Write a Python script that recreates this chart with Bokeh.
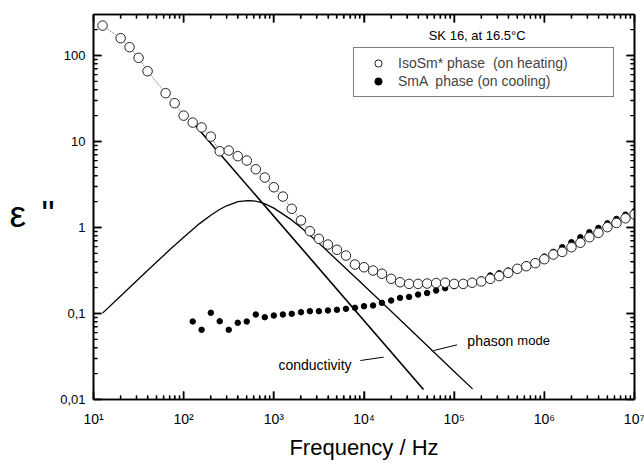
import math
from bokeh.plotting import figure
from bokeh.layouts import row
from bokeh.models import (Range1d, FixedTicker, Legend, LegendItem, Label, LogAxis,
                          CustomJSTickFormatter)
from bokeh.core.properties import value
from bokeh.embed import file_html
from bokeh.resources import INLINE

FONT = "Liberation Sans"

# IsoSm* phase (on heating) - open circles
heat_freq = [12.6, 20.0, 25.1, 31.6, 39.8, 63.1, 79.4,
             100, 126, 158, 200, 251, 316, 398, 501, 631, 794,
             1.0e3, 1.26e3, 1.58e3, 2.0e3, 2.51e3, 3.16e3, 3.98e3, 5.01e3, 6.31e3, 7.94e3,
             1.0e4, 1.26e4, 1.58e4, 2.0e4, 2.51e4, 3.16e4, 3.98e4, 5.01e4, 6.31e4, 7.94e4,
             1.0e5, 1.26e5, 1.58e5, 2.0e5, 2.51e5, 3.16e5, 3.98e5, 5.01e5, 6.31e5, 7.94e5,
             1.0e6, 1.26e6, 1.58e6, 2.0e6, 2.51e6, 3.16e6, 3.98e6, 5.01e6, 6.31e6, 7.94e6,
             1.0e7]
heat_eps = [223, 159, 125, 94, 65.7, 36.5, 27.9,
            20.0, 16.6, 14.6, 11.4, 7.71, 7.86, 6.75, 6.01, 4.76, 3.81,
            2.94, 2.29, 1.65, 1.21, 0.906, 0.739, 0.634, 0.551, 0.472, 0.371,
            0.345, 0.316, 0.290, 0.253, 0.231, 0.221, 0.221, 0.223, 0.226, 0.228,
            0.221, 0.221, 0.228, 0.236, 0.253, 0.272, 0.297, 0.331, 0.355, 0.385,
            0.428, 0.485, 0.521, 0.590, 0.664, 0.771, 0.867, 1.01, 1.13, 1.28,
            1.42]

# SmA phase (on cooling) - filled dots
cool_freq = [126, 158, 200, 251, 316, 398, 501, 631, 794,
             1.0e3, 1.26e3, 1.58e3, 2.0e3, 2.51e3, 3.16e3, 3.98e3, 5.01e3, 6.31e3, 7.94e3,
             1.0e4, 1.26e4, 1.58e4, 2.0e4, 2.51e4, 3.16e4, 3.98e4, 5.01e4, 6.31e4, 7.94e4,
             1.0e5, 1.26e5, 1.58e5, 2.0e5, 2.51e5, 3.16e5, 3.98e5, 5.01e5, 6.31e5, 7.94e5,
             1.0e6, 1.26e6, 1.58e6, 2.0e6, 2.51e6, 3.16e6, 3.98e6, 5.01e6, 6.31e6, 7.94e6,
             1.0e7]
cool_eps = [0.0807, 0.0646, 0.102, 0.0813, 0.0646, 0.078, 0.0807, 0.0974, 0.0906,
            0.0948, 0.0974, 0.0992, 0.1035, 0.1064, 0.1064, 0.1084, 0.1104, 0.1134, 0.1165,
            0.1216, 0.124, 0.133, 0.1416, 0.152, 0.156, 0.166, 0.173, 0.185, 0.197,
            0.208, 0.216, 0.231, 0.249, 0.277, 0.294, 0.316, 0.345, 0.371, 0.403,
            0.460, 0.521, 0.590, 0.675, 0.771, 0.882, 0.99, 1.12, 1.26, 1.41,
            1.55]

# phason mode curve
phason_freq = [12.6, 20, 40, 70, 100, 150, 200, 250, 300, 400, 515, 600, 700, 800,
               1000, 1500, 2000, 3000, 5000, 1e4, 2e4, 5e4, 1e5, 1.6e5]
phason_eps = [0.101, 0.160, 0.318, 0.55, 0.77, 1.11, 1.39, 1.62, 1.79, 2.0, 2.06, 2.04,
              1.97, 1.88, 1.68, 1.27, 1.0, 0.69, 0.42, 0.212, 0.106, 0.0424, 0.0212, 0.0133]

# conductivity line
cond_freq = [120, 4.57e4]
cond_eps = [17.7, 0.0131]

x_decades = [10, 100, 1e3, 1e4, 1e5, 1e6, 1e7]
x_tick_labels = ["10¹", "10²", "10³", "10⁴", "10⁵", "10⁶", "10⁷"]
y_ticks = [0.01, 0.1, 1, 10, 100]
y_tick_labels = ["0,01", "0,1", "1", "10", "100"]
y_title = ["ε", '"']

X0, X1 = 10, 1e7
Y0, Y1 = 0.01, 300

x_minor = [m * d for d in x_decades[:-1] for m in range(2, 10)]
y_minor = [m * d for d in y_ticks for m in range(2, 10) if m * d < Y1]

# layout: a narrow strip for the y title + the main plot
LW = 55
W, H = 644 - LW, 464
BL, BR, BT, BB = 38, 10, 14, 65

lab = figure(width=LW, height=H, x_range=Range1d(0, LW), y_range=Range1d(0, H),
             output_backend="svg", toolbar_location=None,
             x_axis_location=None, y_axis_location=None,
             min_border_left=0, min_border_right=0, min_border_top=0, min_border_bottom=0)
lab.grid.visible = False
lab.outline_line_color = None
lab.background_fill_color = None
lab.border_fill_color = None
lab.text(x=[9, 41], y=[H - 241, H - 241], text=y_title, text_align="left",
         text_baseline="alphabetic", text_font=value(FONT), text_font_size="37px",
         text_color="black")

p = figure(width=W, height=H, x_axis_type="log", y_axis_type="log",
           x_range=Range1d(X0, X1), y_range=Range1d(Y0, Y1),
           output_backend="svg", toolbar_location=None,
           min_border_left=BL, min_border_right=BR, min_border_top=BT, min_border_bottom=BB)
p.grid.visible = False
p.outline_line_color = "black"
p.outline_line_width = 1.6
p.background_fill_color = None
p.border_fill_color = None


def style(ax):
    ax.axis_line_color = "black"
    ax.axis_line_width = 1.6
    ax.major_tick_in = 8
    ax.major_tick_out = 0
    ax.minor_tick_in = 4
    ax.minor_tick_out = 0
    ax.major_tick_line_color = "black"
    ax.minor_tick_line_color = "black"
    ax.major_tick_line_width = 1.5
    ax.minor_tick_line_width = 1.2
    ax.major_label_text_font = FONT
    ax.major_label_text_color = "black"


xa = p.xaxis[0]
style(xa)
xa.ticker = FixedTicker(ticks=x_decades, minor_ticks=x_minor)
xa.major_label_overrides = dict(zip(x_decades, x_tick_labels))
xa.major_label_text_font_size = "14px"
xa.major_label_standoff = 11
xa.axis_label = "Frequency / Hz"
xa.axis_label_text_font = FONT
xa.axis_label_text_font_size = "22px"
xa.axis_label_text_font_style = "normal"
xa.axis_label_text_color = "black"
xa.axis_label_standoff = 5

ya = p.yaxis[0]
style(ya)
ya.ticker = FixedTicker(ticks=y_ticks, minor_ticks=y_minor)
ya.major_label_overrides = dict(zip(y_ticks, y_tick_labels))
ya.major_label_text_font_size = "13px"
ya.major_label_standoff = 8

blank = CustomJSTickFormatter(code="return ''")
ta = LogAxis(ticker=FixedTicker(ticks=x_decades, minor_ticks=x_minor), formatter=blank,
             major_label_text_font_size="1px", major_label_standoff=0)
style(ta)
p.add_layout(ta, "above")
ra = LogAxis(ticker=FixedTicker(ticks=y_ticks, minor_ticks=y_minor), formatter=blank,
             major_label_text_font_size="1px", major_label_standoff=0)
style(ra)
p.add_layout(ra, "right")

# inward tick marks drawn again as glyphs just inside the frame edges
px_dec_x = (W - BL - BR) / math.log10(X1 / X0)
px_dec_y = (H - BT - BB) / math.log10(Y1 / Y0)


def fx(px):
    return 10 ** (px / px_dec_x)


def fy(px):
    return 10 ** (px / px_dec_y)


tick_xs, tick_ys = [], []
for ticks, L in ((x_decades, 8), (x_minor, 4)):
    for t in ticks:
        tick_xs += [[t, t], [t, t]]
        tick_ys += [[Y0 * fy(0.5), Y0 * fy(L)], [Y1 / fy(0.5), Y1 / fy(L)]]
for ticks, L in ((y_ticks, 8), (y_minor, 4)):
    for t in ticks:
        tick_xs += [[X0 * fx(0.5), X0 * fx(L)], [X1 / fx(0.5), X1 / fx(L)]]
        tick_ys += [[t, t], [t, t]]
p.multi_line(xs=tick_xs, ys=tick_ys, line_color="black", line_width=1.4)

# curves
p.line(phason_freq, phason_eps, line_color="black", line_width=1.3)
p.line(cond_freq, cond_eps, line_color="black", line_width=1.6)
p.line(heat_freq, heat_eps, line_color="#8c8c8c", line_width=1, line_dash="2 1")
r_dot = p.scatter(cool_freq, cool_eps, size=5.5, marker="circle",
                  fill_color="black", line_color="black")
r_open = p.scatter(heat_freq, heat_eps, size=9.5, marker="circle",
                   fill_color="white", line_color="#222222", line_width=1)

# annotations
p.add_layout(Label(x=1125, y=0.0255, text="conductivity", text_align="left",
                   text_baseline="middle", text_font=FONT, text_font_size="14px",
                   text_color="black"))
p.segment(x0=[9120], y0=[0.0284], x1=[16500], y1=[0.0311], line_color="black", line_width=1)
p.add_layout(Label(x=1.4e5, y=0.0485, text="phason", text_align="left",
                   text_baseline="middle", text_font=FONT, text_font_size="14px",
                   text_color="black"))
p.add_layout(Label(x=1.4e5, y=0.0485, x_offset=50, text="mode", text_align="left",
                   text_baseline="middle", text_font=FONT, text_font_size="13px",
                   text_color="black"))
p.segment(x0=[5.93e4], y0=[0.0371], x1=[1.077e5], y1=[0.0432], line_color="black", line_width=1)

p.add_layout(Label(x=1.8e5, y=171, text="SK 16, at 16.5°C", text_align="center",
                   text_baseline="middle", text_font=FONT, text_font_size="13px",
                   text_color="black"))

legend = Legend(items=[LegendItem(label="IsoSm* phase  (on heating)", renderers=[r_open]),
                       LegendItem(label="SmA  phase (on cooling)", renderers=[r_dot])],
                location=(260, 302), padding=6, spacing=0, margin=0,
                glyph_width=36, glyph_height=18, label_height=18, label_width=209,
                label_standoff=2, label_text_font=FONT, label_text_font_size="14px",
                border_line_color="black", border_line_width=1.2,
                background_fill_color="white", background_fill_alpha=1)
p.add_layout(legend)

layout = row(lab, p, spacing=0)
open("out.html", "w").write(file_html(layout, INLINE))
